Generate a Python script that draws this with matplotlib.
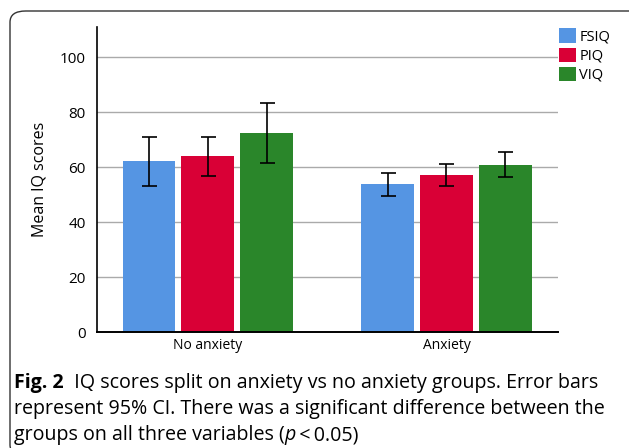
import matplotlib
matplotlib.use("Agg")
import matplotlib.pyplot as plt
import numpy as np
from matplotlib.patches import FancyBboxPatch

plt.rcParams['font.family'] = ['Open Sans', 'DejaVu Sans']

groups = ["No anxiety", "Anxiety"]
series = ["FSIQ", "PIQ", "VIQ"]
means = {
    "FSIQ": [62.3, 53.9],
    "PIQ": [64.1, 57.2],
    "VIQ": [72.5, 60.8],
}
ci_low = {
    "FSIQ": [53.2, 49.4],
    "PIQ": [56.9, 53.2],
    "VIQ": [61.6, 56.4],
}
ci_high = {
    "FSIQ": [70.9, 57.9],
    "PIQ": [70.8, 61.2],
    "VIQ": [83.3, 65.5],
}
colors = {"FSIQ": "#5595E3", "PIQ": "#D90036", "VIQ": "#2A862A"}
yticks = [0, 20, 40, 60, 80, 100]

W, H = 629, 448
fig = plt.figure(figsize=(W / 100, H / 100), dpi=100)

# outer rounded frame
frame = FancyBboxPatch((10 / W, -8 / H), 640 / W, (H - 11 + 8) / H,
                       boxstyle="round,pad=0,rounding_size=0.025",
                       transform=fig.transFigure, fill=False,
                       edgecolor="#333333", linewidth=1.0, clip_on=False)
fig.patches.append(frame)

ax = fig.add_axes([97 / W, 1 - 332 / H, (558 - 97) / W, (332 - 27) / H])

x = np.arange(len(groups))
width = 0.222
step = 0.247
for i, s in enumerate(series):
    xs = x + (i - 1) * step
    m = np.array(means[s])
    lo = m - np.array(ci_low[s])
    hi = np.array(ci_high[s]) - m
    ax.bar(xs, m, width=width, color=colors[s], label=s, zorder=2)
    ax.errorbar(xs, m, yerr=[lo, hi], fmt="none", ecolor="black",
                elinewidth=1.2, capsize=5.4, capthick=1.2, zorder=3)

ax.set_xlim(-0.465, 1.4675)
ax.set_ylim(0, 111)
ax.set_yticks(yticks)
ax.set_xticks(x)
ax.set_xticklabels(groups, fontsize=10)
ax.tick_params(axis="y", length=0, labelsize=11, pad=8)
ax.tick_params(axis="x", length=0, pad=4)
ax.yaxis.grid(True, color="#AAAAAA", linewidth=1.0, zorder=0)
ax.set_axisbelow(True)
for side in ["top", "right"]:
    ax.spines[side].set_visible(False)
ax.spines["left"].set_color("black")
ax.spines["bottom"].set_color("black")
ax.spines["left"].set_linewidth(1.2)
ax.spines["bottom"].set_linewidth(1.4)
ax.set_ylabel("Mean IQ scores", fontsize=11.5, labelpad=9)

leg = ax.legend(loc="upper left", bbox_to_anchor=(1.0, 1.0), frameon=False,
                fontsize=10.5, handlelength=1.15, handleheight=1.15,
                handletextpad=0.2, labelspacing=0.2, borderaxespad=0.1,
                borderpad=0.0)

# caption
fs = 14.1
t1 = fig.text(14 / W, 1 - 393 / H, "Fig. 2", fontsize=fs, fontweight="bold",
              va="bottom", ha="left")
ax.annotate("  IQ scores split on anxiety vs no anxiety groups. Error bars",
            xy=(1, 0), xycoords=t1, va="bottom", ha="left",
            fontsize=fs, fontweight="normal")
fig.text(14 / W, 1 - 419 / H,
         "represent 95% CI. There was a significant difference between the",
         fontsize=fs, va="bottom", ha="left")
t3 = fig.text(14 / W, 1 - 445 / H, "groups on all three variables (",
              fontsize=fs, va="bottom", ha="left")
t3b = ax.annotate("p", xy=(1, 0), xycoords=t3, va="bottom", ha="left",
                  fontsize=fs, fontstyle="italic")
ax.annotate("\u2009<\u20090.05)", xy=(1, 0), xycoords=t3b, va="bottom",
            ha="left", fontsize=fs)

fig.savefig("out.png", dpi=100)
